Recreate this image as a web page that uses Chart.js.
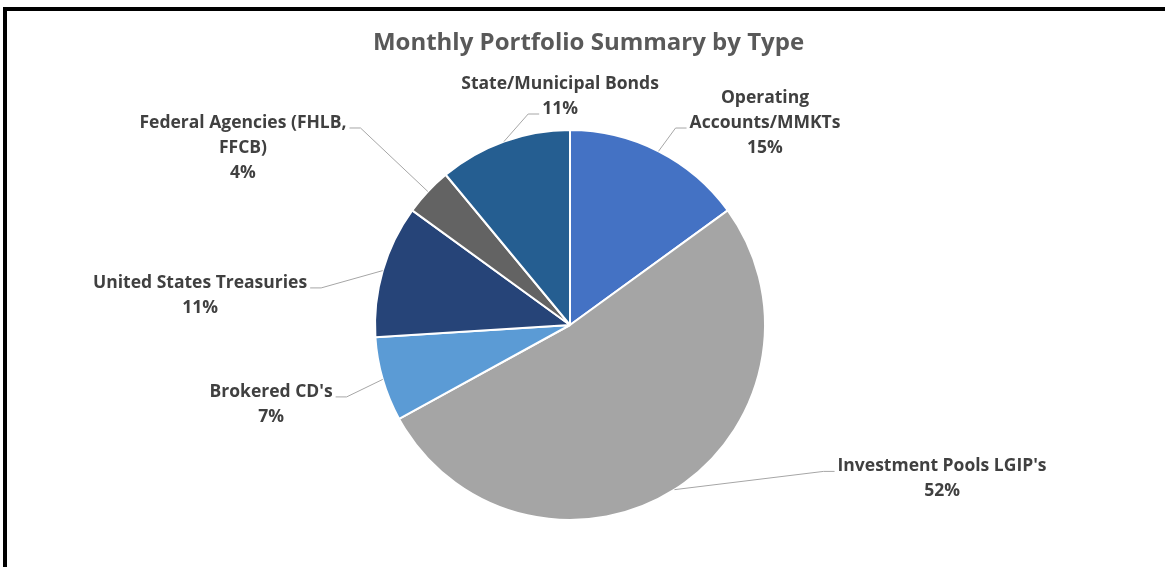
<!DOCTYPE html>
<html>
<head>
    <title>Monthly Portfolio Summary by Type</title>
    <script src="https://cdn.jsdelivr.net/npm/chart.js@4.4.0/dist/chart.umd.min.js"></script>
    <style>
        body {
            margin: 0;
            background-color: #fff;
            overflow: hidden;
        }
        .frame {
            position: absolute;
            left: 3px;
            top: 7px;
            width: 1200px;
            height: 600px;
            border: 4px solid #000;
        }
        .chart-container {
            position: absolute;
            left: 0;
            top: 0;
            width: 1165px;
            height: 567px;
        }
    </style>
</head>
<body>
    <div class="frame"></div>
    <div class="chart-container">
        <canvas id="portfolioChart"></canvas>
    </div>

    <script>
    const chartTitle = 'Monthly Portfolio Summary by Type';
    const categories = [
        ['Operating', 'Accounts/MMKTs'],
        "Investment Pools LGIP's",
        "Brokered CD's",
        'United States Treasuries',
        ['Federal Agencies (FHLB,', 'FFCB)'],
        'State/Municipal Bonds'
    ];
    const shares = [15, 52, 7, 11, 4, 11];   // percent of portfolio
    const sliceColors = ['#4472C4', '#A5A5A5', '#5B9BD5', '#264478', '#636363', '#255E91'];

    // where each label box sits, relative to the pie centre, in radius units
    const labelLayout = [
        { dx: 1.0,    dy: -1.046, line: 1 },
        { dx: 1.908,  dy: 0.779,  line: 0 },
        { dx: -1.533, dy: 0.397,  line: 0 },
        { dx: -1.897, dy: -0.162, line: 0 },
        { dx: -1.677, dy: -0.918, line: 0 },
        { dx: -0.051, dy: -1.182, line: 1 }
    ];

    // title + data labels with leader lines, drawn outside the pie
    const outsideLabels = {
        id: 'outsideLabels',
        afterDatasetsDraw(chart, args, opts) {
            const ctx = chart.ctx;
            const meta = chart.getDatasetMeta(0);
            const values = chart.data.datasets[0].data;
            const total = values.reduce((a, b) => a + b, 0);
            ctx.save();

            // title is a little right of the pie centre in the original
            ctx.font = opts.titleFont;
            ctx.fillStyle = opts.titleColor;
            ctx.textAlign = 'center';
            ctx.textBaseline = 'middle';
            ctx.fillText(opts.title, chart.width / 2 + 6, 43);

            ctx.font = opts.font;
            meta.data.forEach((arc, i) => {
                const p = arc.getProps(['x', 'y', 'startAngle', 'endAngle', 'outerRadius'], true);
                const mid = (p.startAngle + p.endAngle) / 2;
                const ax = p.x + Math.cos(mid) * p.outerRadius;
                const ay = p.y + Math.sin(mid) * p.outerRadius;
                const lay = opts.layout[i];
                const cx = p.x + lay.dx * p.outerRadius;
                const cy = p.y + lay.dy * p.outerRadius + 2;
                const name = chart.data.labels[i];
                const lines = Array.isArray(name) ? name.slice() : [name];
                lines.push(Math.round(values[i] / total * 100) + '%');
                const lh = opts.lineHeight;
                const top = cy - lh * lines.length / 2;

                const w = ctx.measureText(lines[lay.line]).width;
                const side = cx > ax ? -1 : 1;
                const tx = cx + side * (w / 2 + 3);
                const ty = top + lh * lay.line + lh / 2 + 5;
                const ex = tx + side * 11;
                ctx.strokeStyle = opts.lineColor;
                ctx.lineWidth = 1;
                ctx.beginPath();
                ctx.moveTo(ax, ay);
                ctx.lineTo(ex, ty);
                ctx.lineTo(tx, ty);
                ctx.stroke();

                ctx.fillStyle = opts.color;
                ctx.textAlign = 'center';
                ctx.textBaseline = 'middle';
                lines.forEach((t, j) => ctx.fillText(t, cx, top + lh * j + lh / 2));
            });
            ctx.restore();
        }
    };

    Chart.defaults.font.family = '"Open Sans", sans-serif';

    const ctx = document.getElementById('portfolioChart').getContext('2d');
    const chart = new Chart(ctx, {
        type: 'pie',
        data: {
            labels: categories,
            datasets: [{
                data: shares,
                backgroundColor: sliceColors,
                borderColor: '#ffffff',
                borderWidth: 2
            }]
        },
        options: {
            responsive: true,
            maintainAspectRatio: false,
            animation: false,
            radius: 195,
            layout: {
                padding: { top: 100, bottom: 17, left: 0, right: 25 }
            },
            plugins: {
                legend: { display: false },
                tooltip: { enabled: false },
                title: { display: false },
                outsideLabels: {
                    title: chartTitle,
                    titleFont: 'bold 24px "Open Sans"',
                    titleColor: '#595959',
                    font: 'bold 17.5px "Open Sans"',
                    lineHeight: 25,
                    color: '#404040',
                    lineColor: '#A6A6A6',
                    layout: labelLayout
                }
            }
        },
        plugins: [outsideLabels]
    });
    </script>
</body>
</html>
